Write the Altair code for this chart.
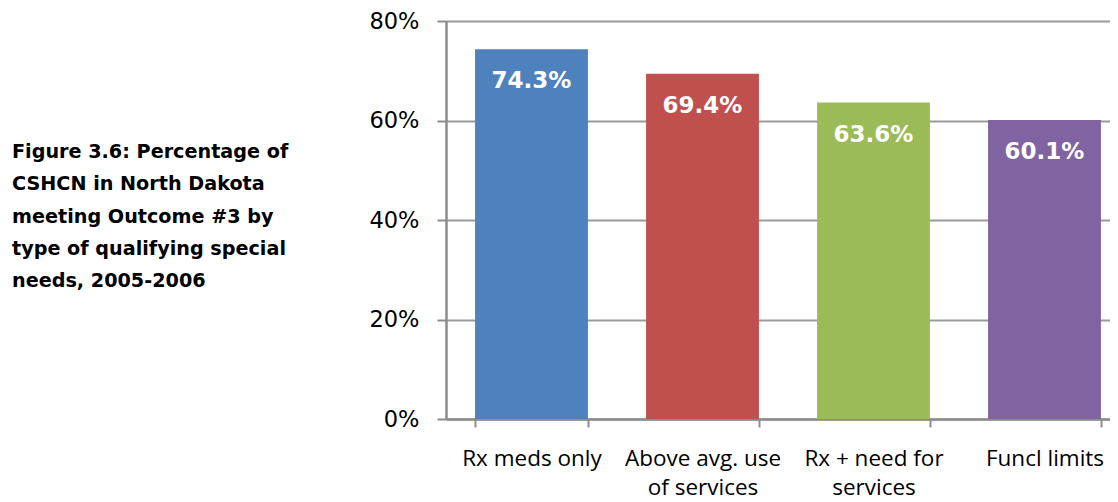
import altair as alt
import pandas as pd

categories = ["Rx meds only", "Above avg. use\nof services", "Rx +  need for\nservices", "Funcl limits"]
values = [74.3, 69.4, 63.6, 60.1]
colors = ["#4F81BD", "#C0504D", "#9BBB59", "#8064A2"]
y_ticks = [0, 20, 40, 60, 80]
title_lines = ["Figure 3.6: Percentage of", "CSHCN in North Dakota", "meeting Outcome #3 by",
               "type of qualifying special", "needs, 2005-2006"]

df = pd.DataFrame({"cat": categories, "val": values,
                   "label": [f"{v:.1f}%" for v in values]})

x_enc = alt.X("cat:N", sort=categories,
              scale=alt.Scale(paddingInner=0.34, paddingOuter=0.17, range=[0, 684]),
              axis=alt.Axis(title=None, labelAngle=0,
                            labelExpr="split(datum.label, '\\n')",
                            labelFont="Open Sans", labelFontSize=22.5,
                            labelColor="#000000", labelLineHeight=29.5,
                            labelPadding=20, labelBaseline="top",
                            tickBand="extent", tickSize=8, tickColor="#8c8c8c",
                            tickWidth=2, domainColor="#8c8c8c", domainWidth=2.5,
                            grid=False))
y_enc = alt.Y("val:Q", scale=alt.Scale(domain=[0, 80], nice=False),
              axis=alt.Axis(title=None, values=y_ticks,
                            labelExpr="datum.value + '%'",
                            labelFont="DejaVu Sans", labelFontSize=22.5,
                            labelColor="#000000", labelPadding=18,
                            tickSize=9, tickColor="#8c8c8c", tickWidth=2,
                            domainColor="#8c8c8c", domainWidth=2.5,
                            grid=True, gridColor="#9a9a9a", gridWidth=2))

bars = alt.Chart(df).mark_bar().encode(
    x=x_enc, y=y_enc,
    color=alt.Color("cat:N", sort=categories,
                    scale=alt.Scale(domain=categories, range=colors), legend=None))

labels = alt.Chart(df).mark_text(font="DejaVu Sans", fontWeight="bold", fontSize=23,
                                 color="white", baseline="middle", dy=32).encode(
    x=alt.X("cat:N", sort=categories), y="val:Q", text="label:N")

title_df = pd.DataFrame({"t": ["\n".join(title_lines)]})
title = alt.Chart(title_df).mark_text(font="DejaVu Sans", fontWeight="bold", fontSize=19.2,
                                      lineBreak="\n", lineHeight=32.3, align="left",
                                      baseline="alphabetic", color="#000000").encode(
    text="t:N", x=alt.value(-434), y=alt.value(137))

chart = alt.layer(bars, labels, title).properties(
    width=664, height=398,
    autosize=alt.AutoSizeParams(type="none"),
    padding={"left": 438, "top": 13, "right": 0, "bottom": 90},
).configure_view(stroke=None).configure(background="white")

chart.save("out.html", embed_options={"renderer": "svg", "actions": False})
